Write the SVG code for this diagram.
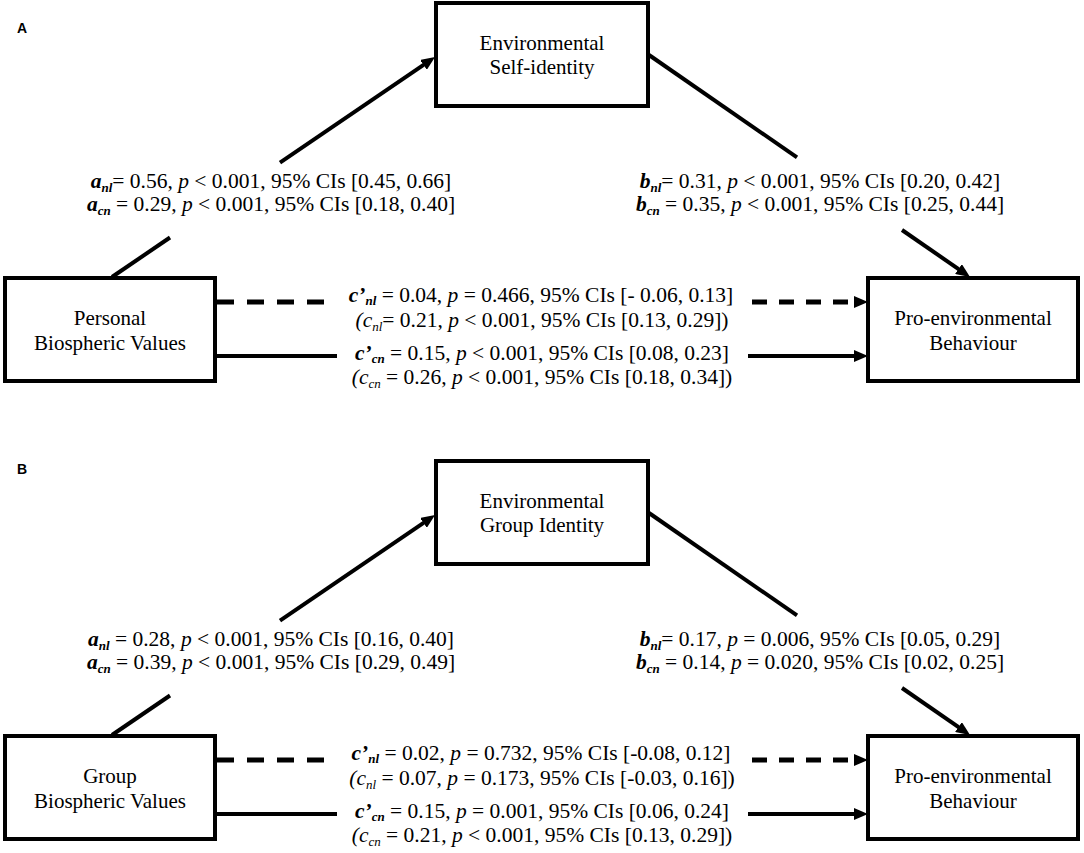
<svg xmlns="http://www.w3.org/2000/svg" width="1084" height="853" viewBox="0 0 1084 853">
<defs>
<style>
.box{fill:#fff;stroke:#000;stroke-width:4}
.nt{font-family:"Liberation Serif","Times New Roman",serif;font-size:21px;text-anchor:middle;fill:#000}
.lt{font-family:"Liberation Serif","Times New Roman",serif;font-size:21.5px;text-anchor:middle;fill:#000}
.bi{font-weight:bold;font-style:italic}
.it{font-style:italic}
.sb{font-size:13px}
.ln{fill:none;stroke:#000;stroke-width:4}
.dl{fill:none;stroke:#000;stroke-width:5}
.pl{font-family:"Liberation Sans",Arial,sans-serif;font-size:14px;font-weight:bold;fill:#000}
</style>
<marker id="ah" viewBox="0 0 14 12" refX="1" refY="6" markerWidth="14" markerHeight="12" markerUnits="userSpaceOnUse" orient="auto">
<path d="M0,0 L14,6 L0,12 z" fill="#000"/>
</marker>
</defs>
<rect width="1084" height="853" fill="#fff"/>

<text class="pl" x="17" y="33">A</text>
<text class="pl" x="17" y="474">B</text>

<g id="panelA">
<g id="connectorsA">
<path class="ln" d="M112,277 L170,237.5"/>
<path class="ln" d="M280,162.6 L424.3,64.3" marker-end="url(#ah)"/>
<path class="ln" d="M649,55 L797,157.4"/>
<path class="ln" d="M902,230 L959.3,269.6" marker-end="url(#ah)"/>
<path class="dl" d="M217,302 L325,302" stroke-dasharray="17 13"/>
<path class="dl" d="M752,302 L855,302" stroke-dasharray="15 12" marker-end="url(#ah)"/>
<path class="ln" d="M217,356 L337,356"/>
<path class="ln" d="M748,356 L855,356" marker-end="url(#ah)"/>
</g>
<g id="A-mediator">
<rect class="box" x="436" y="3" width="212" height="103"/>
<text class="nt" x="542" y="50">Environmental</text>
<text class="nt" x="542" y="74">Self-identity</text>
</g>
<g id="A-predictor">
<rect class="box" x="5" y="278" width="210" height="103"/>
<text class="nt" x="110" y="325">Personal</text>
<text class="nt" x="110" y="350">Biospheric Values</text>
</g>
<g id="A-outcome">
<rect class="box" x="868" y="278" width="210" height="103"/>
<text class="nt" x="973" y="325">Pro-environmental</text>
<text class="nt" x="973" y="350">Behaviour</text>
</g>
<g id="A-labels">
<text class="lt" x="271" y="188"><tspan class="bi">a</tspan><tspan class="bi sb" dy="4">nl</tspan><tspan dy="-4">= 0.56, </tspan><tspan class="it">p</tspan> &lt; 0.001, 95% CIs [0.45, 0.66]</text>
<text class="lt" x="271" y="211"><tspan class="bi">a</tspan><tspan class="bi sb" dy="4">cn</tspan><tspan dy="-4"> = 0.29, </tspan><tspan class="it">p</tspan> &lt; 0.001, 95% CIs [0.18, 0.40]</text>
<text class="lt" x="820" y="188"><tspan class="bi">b</tspan><tspan class="bi sb" dy="4">nl</tspan><tspan dy="-4">= 0.31, </tspan><tspan class="it">p</tspan> &lt; 0.001, 95% CIs [0.20, 0.42]</text>
<text class="lt" x="820" y="211"><tspan class="bi">b</tspan><tspan class="bi sb" dy="4">cn</tspan><tspan dy="-4"> = 0.35, </tspan><tspan class="it">p</tspan> &lt; 0.001, 95% CIs [0.25, 0.44]</text>
<text class="lt" x="541" y="302"><tspan class="bi">c’</tspan><tspan class="bi sb" dy="3">nl</tspan><tspan dy="-3"> = 0.04, </tspan><tspan class="it">p</tspan> = 0.466, 95% CIs [- 0.06, 0.13]</text>
<text class="lt" x="542" y="327"><tspan class="it">(c</tspan><tspan class="it sb" dy="4">nl</tspan><tspan dy="-4">= 0.21, </tspan><tspan class="it">p</tspan> &lt; 0.001, 95% CIs [0.13, 0.29])</text>
<text class="lt" x="542" y="360"><tspan class="bi">c’</tspan><tspan class="bi sb" dy="3">cn</tspan><tspan dy="-3"> = 0.15, </tspan><tspan class="it">p</tspan> &lt; 0.001, 95% CIs [0.08, 0.23]</text>
<text class="lt" x="542" y="384"><tspan class="it">(c</tspan><tspan class="it sb" dy="4">cn</tspan><tspan dy="-4"> = 0.26, </tspan><tspan class="it">p</tspan> &lt; 0.001, 95% CIs [0.18, 0.34])</text>
</g>
</g>

<g id="panelB" transform="translate(0,458)">
<g id="connectorsB">
<path class="ln" d="M112,277 L170,237.5"/>
<path class="ln" d="M280,162.6 L424.3,64.3" marker-end="url(#ah)"/>
<path class="ln" d="M649,55 L797,157.4"/>
<path class="ln" d="M902,230 L959.3,269.6" marker-end="url(#ah)"/>
<path class="dl" d="M217,302 L325,302" stroke-dasharray="17 13"/>
<path class="dl" d="M752,302 L855,302" stroke-dasharray="15 12" marker-end="url(#ah)"/>
<path class="ln" d="M217,356 L337,356"/>
<path class="ln" d="M748,356 L855,356" marker-end="url(#ah)"/>
</g>
<g id="B-mediator">
<rect class="box" x="436" y="3" width="212" height="103"/>
<text class="nt" x="542" y="50">Environmental</text>
<text class="nt" x="542" y="74">Group Identity</text>
</g>
<g id="B-predictor">
<rect class="box" x="5" y="278" width="210" height="103"/>
<text class="nt" x="110" y="325">Group</text>
<text class="nt" x="110" y="350">Biospheric Values</text>
</g>
<g id="B-outcome">
<rect class="box" x="868" y="278" width="210" height="103"/>
<text class="nt" x="973" y="325">Pro-environmental</text>
<text class="nt" x="973" y="350">Behaviour</text>
</g>
<g id="B-labels">
<text class="lt" x="271" y="188"><tspan class="bi">a</tspan><tspan class="bi sb" dy="4">nl</tspan><tspan dy="-4"> = 0.28, </tspan><tspan class="it">p</tspan> &lt; 0.001, 95% CIs [0.16, 0.40]</text>
<text class="lt" x="271" y="211"><tspan class="bi">a</tspan><tspan class="bi sb" dy="4">cn</tspan><tspan dy="-4"> = 0.39, </tspan><tspan class="it">p</tspan> &lt; 0.001, 95% CIs [0.29, 0.49]</text>
<text class="lt" x="820" y="188"><tspan class="bi">b</tspan><tspan class="bi sb" dy="4">nl</tspan><tspan dy="-4">= 0.17, </tspan><tspan class="it">p</tspan> = 0.006, 95% CIs [0.05, 0.29]</text>
<text class="lt" x="820" y="211"><tspan class="bi">b</tspan><tspan class="bi sb" dy="4">cn</tspan><tspan dy="-4"> = 0.14, </tspan><tspan class="it">p</tspan> = 0.020, 95% CIs [0.02, 0.25]</text>
<text class="lt" x="541" y="302"><tspan class="bi">c’</tspan><tspan class="bi sb" dy="3">nl</tspan><tspan dy="-3"> = 0.02, </tspan><tspan class="it">p</tspan> = 0.732, 95% CIs [-0.08, 0.12]</text>
<text class="lt" x="542" y="327"><tspan class="it">(c</tspan><tspan class="it sb" dy="4">nl</tspan><tspan dy="-4"> = 0.07, </tspan><tspan class="it">p</tspan> = 0.173, 95% CIs [-0.03, 0.16])</text>
<text class="lt" x="542" y="360"><tspan class="bi">c’</tspan><tspan class="bi sb" dy="3">cn</tspan><tspan dy="-3"> = 0.15, </tspan><tspan class="it">p</tspan> = 0.001, 95% CIs [0.06, 0.24]</text>
<text class="lt" x="542" y="384"><tspan class="it">(c</tspan><tspan class="it sb" dy="4">cn</tspan><tspan dy="-4"> = 0.21, </tspan><tspan class="it">p</tspan> &lt; 0.001, 95% CIs [0.13, 0.29])</text>
</g>
</g>
</svg>
